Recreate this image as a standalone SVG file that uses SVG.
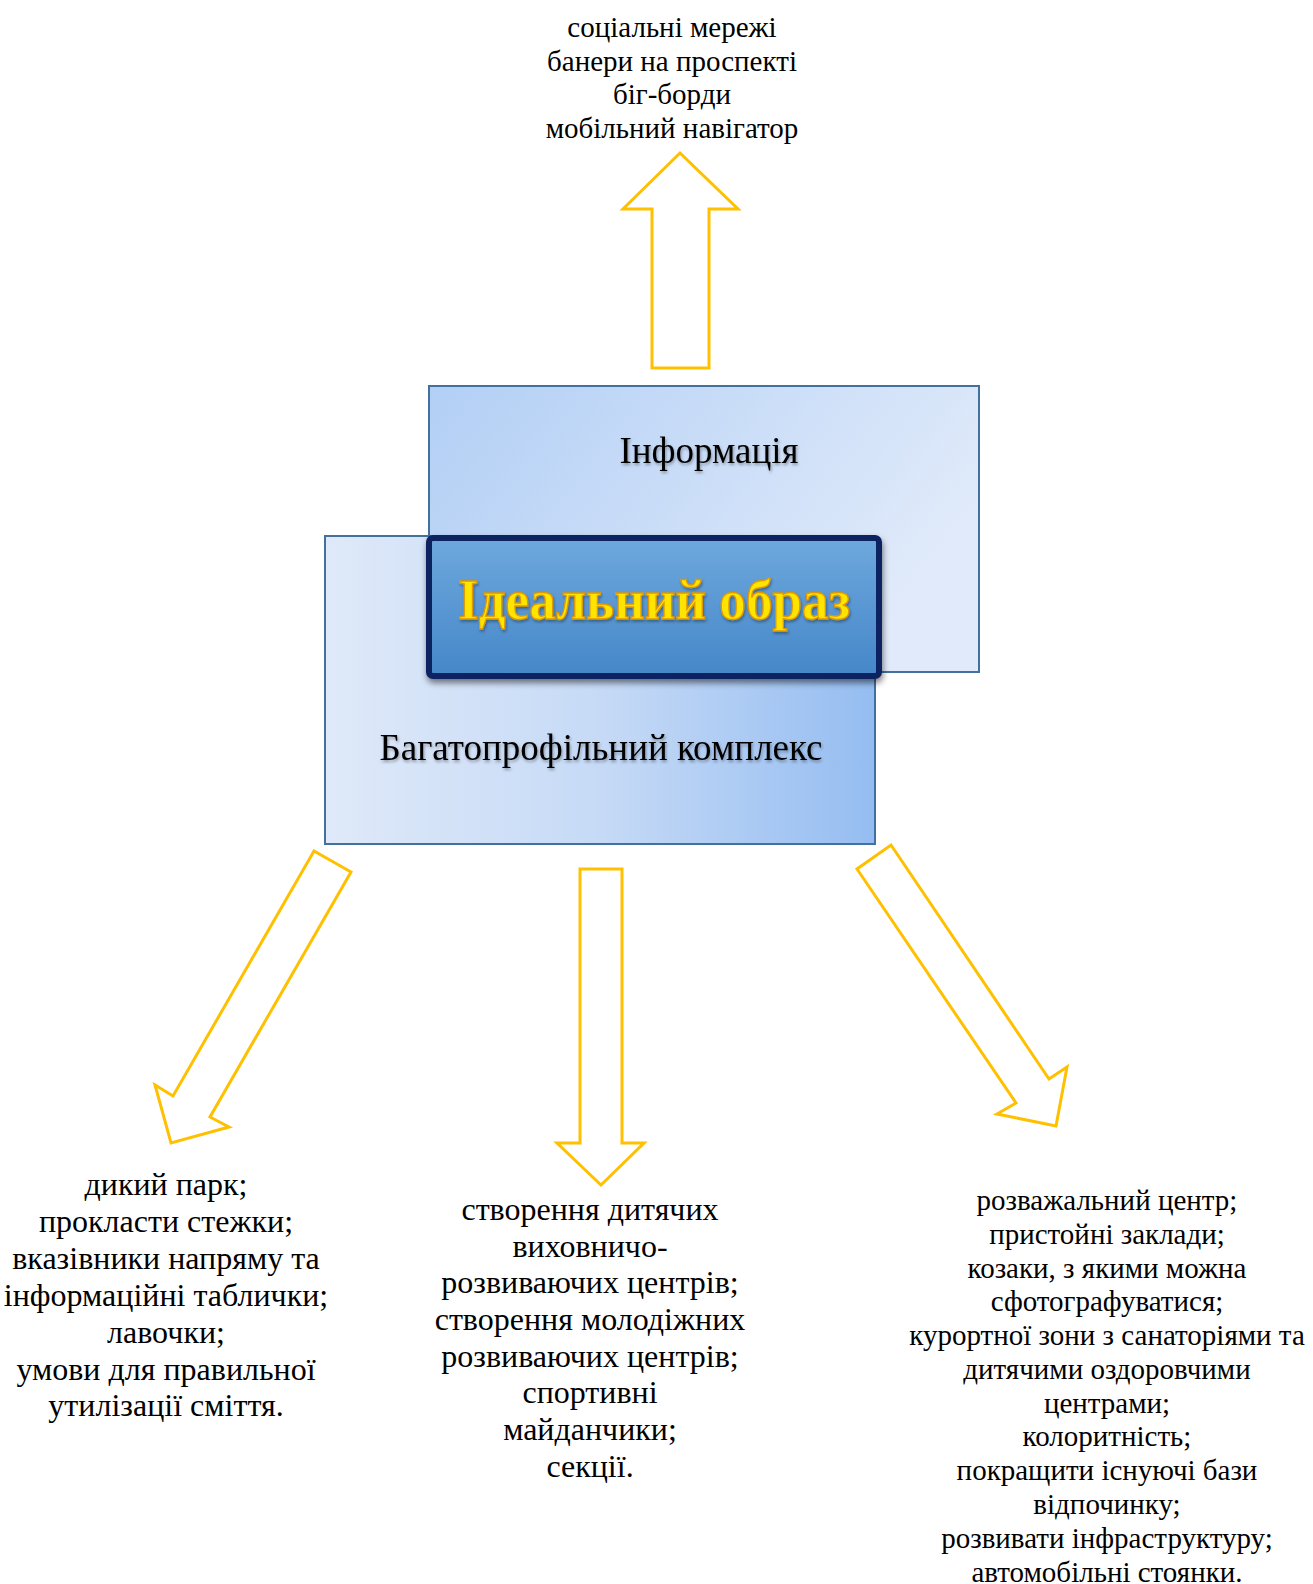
<svg xmlns="http://www.w3.org/2000/svg" width="1313" height="1584" viewBox="0 0 1313 1584">
<style>
.t{font-family:"Liberation Serif","Times New Roman",serif;fill:#000;text-anchor:middle}
.arrow{fill:#fff;stroke:#FFC000;stroke-width:3;stroke-linejoin:miter}
.box{stroke:#41719C;stroke-width:2}
</style>
<defs>
<linearGradient id="gInfo" x1="0" y1="0" x2="1" y2="0.4">
<stop offset="0" stop-color="#b2cff5"/>
<stop offset="1" stop-color="#e0eafa"/>
</linearGradient>
<linearGradient id="gBag" x1="0" y1="0" x2="1" y2="0">
<stop offset="0" stop-color="#dfe9f9"/>
<stop offset="0.5" stop-color="#c6daf6"/>
<stop offset="1" stop-color="#95bdf1"/>
</linearGradient>
<linearGradient id="gIdeal" x1="0" y1="0" x2="0" y2="1">
<stop offset="0" stop-color="#6ea8dd"/>
<stop offset="1" stop-color="#4587c9"/>
</linearGradient>
<filter id="sh" x="-10%" y="-10%" width="130%" height="140%">
<feGaussianBlur in="SourceAlpha" stdDeviation="3"/>
<feOffset dx="1" dy="4" result="b"/>
<feComponentTransfer><feFuncA type="linear" slope="0.5"/></feComponentTransfer>
<feMerge><feMergeNode/><feMergeNode in="SourceGraphic"/></feMerge>
</filter>
<filter id="tsh" x="-5%" y="-20%" width="110%" height="150%">
<feGaussianBlur in="SourceAlpha" stdDeviation="1.5"/>
<feOffset dx="1" dy="2"/>
<feComponentTransfer><feFuncA type="linear" slope="0.35"/></feComponentTransfer>
<feMerge><feMergeNode/><feMergeNode in="SourceGraphic"/></feMerge>
</filter>
</defs>

<g id="top-text">
<text class="t" font-size="29"><tspan x="672" y="37">соціальні мережі</tspan><tspan x="672" y="71">банери на проспекті</tspan><tspan x="672" y="104">біг-борди</tspan><tspan x="672" y="138">мобільний навігатор</tspan></text>
</g>

<g id="info">
<rect class="box" x="429" y="386" width="550" height="286" fill="url(#gInfo)"/>
<text class="t" font-size="37" x="709" y="463" filter="url(#tsh)">Інформація</text>
</g>

<g id="complex">
<rect class="box" x="325" y="536" width="550" height="308" fill="url(#gBag)"/>
<text class="t" font-size="37" x="601" y="760" filter="url(#tsh)">Багатопрофільний комплекс</text>
</g>

<g id="ideal">
<rect x="429" y="538" width="450" height="138" rx="4" fill="url(#gIdeal)" stroke="#0e2461" stroke-width="6" filter="url(#sh)"/>
<text class="t" font-size="58" font-weight="bold" x="654" y="619" stroke="#E09800" stroke-width="1.4" textLength="392" lengthAdjust="spacingAndGlyphs" filter="url(#tsh)" style="fill:#FFE400">Ідеальний образ</text>
</g>

<g id="connectors">
<polygon class="arrow" points="680,153 738,209 709,209 709,368 652,368 652,209 623,209"/>
<polygon class="arrow" points="314,851 351,872 210,1117 229,1127 171,1143 155,1085 173,1096"/>
<polygon class="arrow" points="580,869 622,869 622,1143 644,1143 601,1185 557,1143 580,1143"/>
<polygon class="arrow" points="891,845 1049,1079 1067,1067 1056,1126 997,1114 1016,1103 857,869"/>
</g>

<g id="left-text">
<text class="t" font-size="32"><tspan x="166" y="1195">дикий парк;</tspan><tspan x="166" y="1232">прокласти стежки;</tspan><tspan x="166" y="1269">вказівники напряму та</tspan><tspan x="166" y="1306">інформаційні таблички;</tspan><tspan x="166" y="1343">лавочки;</tspan><tspan x="166" y="1380">умови для правильної</tspan><tspan x="166" y="1416">утилізації сміття.</tspan></text>
</g>

<g id="middle-text">
<text class="t" font-size="32"><tspan x="590" y="1220">створення дитячих</tspan><tspan x="590" y="1257">виховничо-</tspan><tspan x="590" y="1293">розвиваючих центрів;</tspan><tspan x="590" y="1330">створення молодіжних</tspan><tspan x="590" y="1367">розвиваючих центрів;</tspan><tspan x="590" y="1403">спортивні</tspan><tspan x="590" y="1440">майданчики;</tspan><tspan x="590" y="1477">секції.</tspan></text>
</g>

<g id="right-text">
<text class="t" font-size="29"><tspan x="1107" y="1210">розважальний центр;</tspan><tspan x="1107" y="1244">пристойні заклади;</tspan><tspan x="1107" y="1278">козаки, з якими можна</tspan><tspan x="1107" y="1311">сфотографуватися;</tspan><tspan x="1107" y="1345">курортної зони з санаторіями та</tspan><tspan x="1107" y="1379">дитячими оздоровчими</tspan><tspan x="1107" y="1413">центрами;</tspan><tspan x="1107" y="1446">колоритність;</tspan><tspan x="1107" y="1480">покращити існуючі бази</tspan><tspan x="1107" y="1514">відпочинку;</tspan><tspan x="1107" y="1548">розвивати інфраструктуру;</tspan><tspan x="1107" y="1582">автомобільні стоянки.</tspan></text>
</g>
</svg>
